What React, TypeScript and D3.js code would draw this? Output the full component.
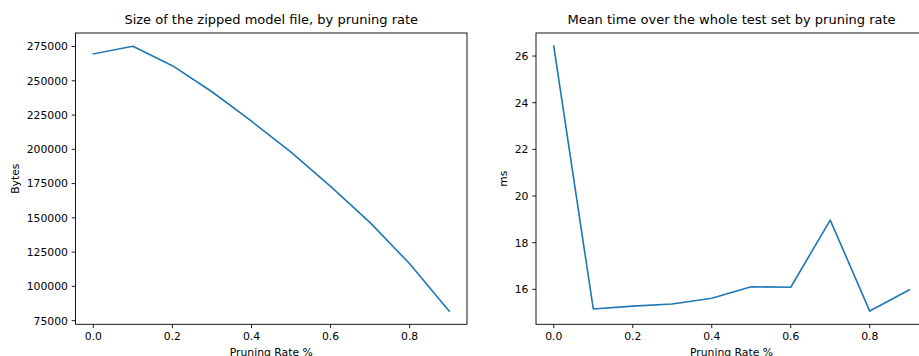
import React from "react";
import * as d3 from "d3";

const pruningRates = [0.0, 0.1, 0.2, 0.3, 0.4, 0.5, 0.6, 0.7, 0.8, 0.9];
const zippedBytes = [269600, 275200, 261000, 242000, 220500, 198000, 173000, 146500, 116500, 82000];
const meanTimeMs = [26.42, 15.16, 15.28, 15.37, 15.62, 16.11, 16.09, 18.97, 15.07, 15.98];

const xTicks = [0.0, 0.2, 0.4, 0.6, 0.8];
const bytesTicks = [75000, 100000, 125000, 150000, 175000, 200000, 225000, 250000, 275000];
const msTicks = [16, 18, 20, 22, 24, 26];

const leftTitle = "Size of the zipped model file, by pruning rate";
const rightTitle = "Mean time over the whole test set by pruning rate";
const xLabel = "Pruning Rate %";
const leftYLabel = "Bytes";
const rightYLabel = "ms";

const FONT = "DejaVu Sans, sans-serif";
const TICK_FS = 10.8;
const TITLE_FS = 13;
const LINE_COLOR = "#1f77b4";

function padDomain(values: number[]): [number, number] {
  const [mn, mx] = d3.extent(values) as [number, number];
  const p = (mx - mn) * 0.05;
  return [mn - p, mx + p];
}

type PanelProps = {
  left: number;
  right: number;
  top: number;
  bottom: number;
  xs: number[];
  ys: number[];
  yTicks: number[];
  yFormat: (v: number) => string;
  title: string;
  yLabel: string;
  yLabelX: number;
};

function Panel(p: PanelProps) {
  const x = d3.scaleLinear().domain(padDomain(p.xs)).range([p.left, p.right]);
  const y = d3.scaleLinear().domain(padDomain(p.ys)).range([p.bottom, p.top]);
  const line = d3
    .line<number>()
    .x((_, i) => x(p.xs[i]))
    .y((d) => y(d));
  const cx = (p.left + p.right) / 2;
  const cy = (p.top + p.bottom) / 2;
  const tickLen = 3.8;
  const pad = 3.8;
  return (
    <g>
      <path d={line(p.ys) || ""} fill="none" stroke={LINE_COLOR} strokeWidth={1.6} strokeLinejoin="round" strokeLinecap="square" />
      <rect x={p.left} y={p.top} width={p.right - p.left} height={p.bottom - p.top} fill="none" stroke="#000" strokeWidth={0.9} />
      {xTicks.map((t) => (
        <g key={"x" + t}>
          <line x1={x(t)} x2={x(t)} y1={p.bottom} y2={p.bottom + tickLen} stroke="#000" strokeWidth={0.9} />
          <text x={x(t)} y={p.bottom + tickLen + pad + 7.9} textAnchor="middle" fontSize={TICK_FS} fontFamily={FONT} fill="#000">
            {t.toFixed(1)}
          </text>
        </g>
      ))}
      {p.yTicks.map((t) => (
        <g key={"y" + t}>
          <line x1={p.left - tickLen} x2={p.left} y1={y(t)} y2={y(t)} stroke="#000" strokeWidth={0.9} />
          <text x={p.left - tickLen - pad} y={y(t)} dy="0.36em" textAnchor="end" fontSize={TICK_FS} fontFamily={FONT} fill="#000">
            {p.yFormat(t)}
          </text>
        </g>
      ))}
      <text x={cx} y={24} textAnchor="middle" fontSize={TITLE_FS} fontFamily={FONT} fill="#000">
        {p.title}
      </text>
      <text x={cx} y={355.5} textAnchor="middle" fontSize={TICK_FS} fontFamily={FONT} fill="#000">
        {xLabel}
      </text>
      <text
        transform={`translate(${p.yLabelX},${cy}) rotate(-90)`}
        textAnchor="middle"
        fontSize={TICK_FS}
        fontFamily={FONT}
        fill="#000"
      >
        {p.yLabel}
      </text>
    </g>
  );
}

export default function App() {
  return (
    <svg
      width={919}
      height={356}
      style={{ position: "absolute", left: 0, top: 0, display: "block", background: "#fff" }}
    >
      <rect x={0} y={0} width={919} height={356} fill="#fff" />
      <Panel
        left={75.5}
        right={467}
        top={33}
        bottom={324.3}
        xs={pruningRates}
        ys={zippedBytes}
        yTicks={bytesTicks}
        yFormat={(v) => String(v)}
        title={leftTitle}
        yLabel={leftYLabel}
        yLabelX={19}
      />
      <Panel
        left={536}
        right={927}
        top={33}
        bottom={324.3}
        xs={pruningRates}
        ys={meanTimeMs}
        yTicks={msTicks}
        yFormat={(v) => String(v)}
        title={rightTitle}
        yLabel={rightYLabel}
        yLabelX={507}
      />
    </svg>
  );
}
